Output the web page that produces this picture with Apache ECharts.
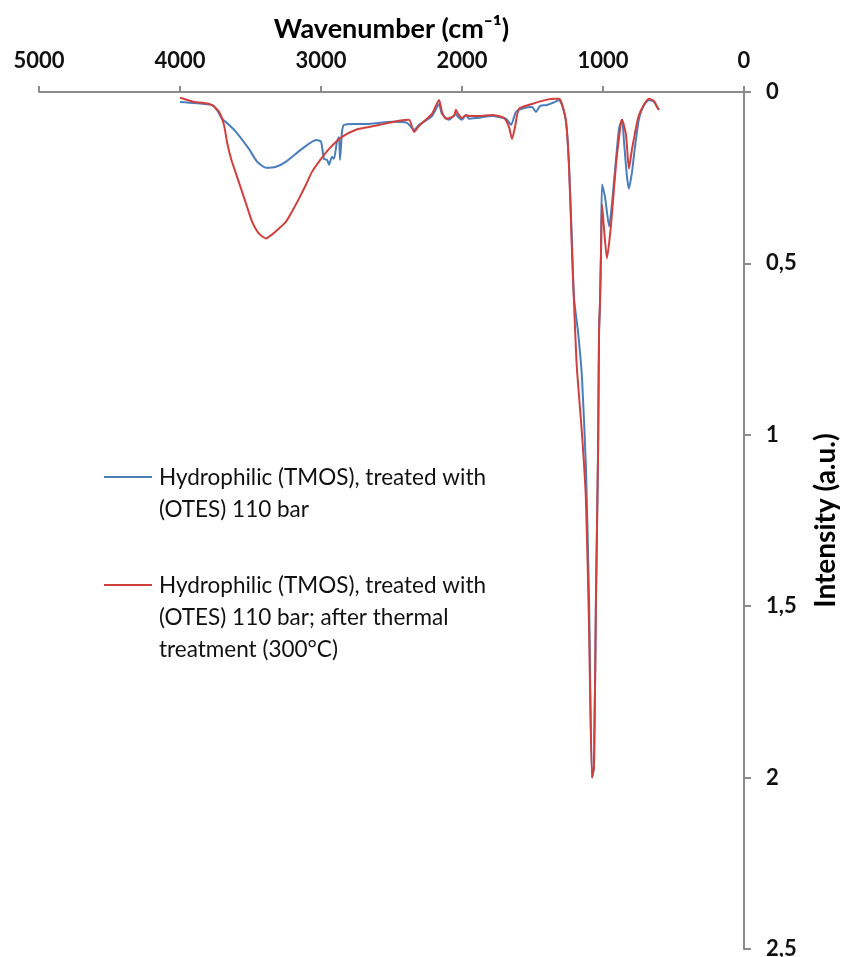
<!DOCTYPE html>
<html>
<head>
<meta charset="utf-8">
<script src="https://cdn.jsdelivr.net/npm/echarts@6/dist/echarts.min.js"></script>
<style>
html,body{margin:0;padding:0;background:#fff;}
#chart{width:843px;height:957px;}
</style>
</head>
<body>
<div id="chart"></div>
<script>
// Wavenumber (cm-1) and intensity (a.u.)
const xTicks = [5000, 4000, 3000, 2000, 1000, 0];
const yTicks = [0, 0.5, 1, 1.5, 2, 2.5];

const seriesNames = [
  'Hydrophilic (TMOS), treated with\n(OTES) 110 bar',
  'Hydrophilic (TMOS), treated with\n(OTES) 110 bar; after thermal\ntreatment (300°C)'
];

const blueWn = [4000,3901,3773,3738,3702,3652,3603,3511,3454,3390,3319,3248,3135,3035,3000,2979,2957,2943,2922,2908,2887,2872,2865,2851,2837,2766,2660,2496,2390,2340,2305,2213,2163,2142,2092,2043,2028,2000,1972,1950,1901,1787,1688,1652,1617,1560,1504,1475,1447,1397,1340,1312,1291,1262,1241,1220,1206,1177,1149,1121,1099,1078,1064,1050,1035,1028,1021,1014,1007,986,957,922,887,865,851,830,816,794,780,745,709,674,638,603];
const blueI  = [0.029,0.032,0.038,0.052,0.078,0.096,0.116,0.166,0.203,0.221,0.218,0.203,0.166,0.140,0.145,0.195,0.198,0.212,0.189,0.195,0.145,0.131,0.198,0.116,0.096,0.093,0.093,0.087,0.090,0.110,0.096,0.070,0.035,0.064,0.081,0.064,0.073,0.081,0.067,0.078,0.076,0.070,0.078,0.096,0.058,0.047,0.044,0.058,0.041,0.038,0.029,0.023,0.038,0.087,0.212,0.44,0.60,0.70,0.834,1.096,1.48,2.0,1.968,1.48,1.05,0.70,0.61,0.465,0.270,0.305,0.392,0.262,0.108,0.081,0.145,0.247,0.282,0.233,0.183,0.078,0.038,0.023,0.029,0.052];

const redWn = [4000,3901,3830,3773,3723,3688,3667,3638,3603,3560,3525,3489,3440,3390,3348,3298,3248,3206,3156,3106,3064,3014,2943,2851,2752,2660,2553,2447,2376,2340,2305,2213,2163,2142,2113,2057,2043,2028,2000,1972,1950,1879,1787,1702,1667,1645,1624,1596,1504,1404,1340,1312,1291,1262,1241,1220,1206,1186,1149,1121,1099,1078,1064,1050,1035,1028,1021,1014,1007,993,972,943,908,872,865,837,816,794,745,674,638,617,603];
const redI  = [0.017,0.029,0.032,0.038,0.058,0.096,0.145,0.195,0.238,0.291,0.334,0.378,0.413,0.427,0.416,0.398,0.378,0.349,0.311,0.270,0.233,0.203,0.166,0.131,0.110,0.102,0.093,0.084,0.081,0.116,0.099,0.064,0.023,0.058,0.078,0.070,0.052,0.064,0.076,0.067,0.070,0.070,0.067,0.076,0.102,0.137,0.102,0.049,0.035,0.023,0.020,0.020,0.035,0.087,0.218,0.465,0.61,0.80,0.997,1.19,1.56,2.0,1.968,1.48,1.05,0.70,0.61,0.465,0.328,0.398,0.485,0.387,0.212,0.087,0.081,0.125,0.224,0.166,0.067,0.020,0.026,0.044,0.052];

const colors = ['#4a7ebb', '#d0403e'];
const FONT = 'Lato, "Liberation Sans", sans-serif';

function pairs(xs, ys){ return xs.map((x,i)=>[x, ys[i]]); }

const chart = echarts.init(document.getElementById('chart'));
chart.setOption({
  animation: false,
  backgroundColor: '#ffffff',
  grid: { left: 39, right: 99, top: 92, bottom: 8, containLabel: false, outerBoundsMode: 'none' },
  xAxis: {
    type: 'value', position: 'top', inverse: true,
    min: 0, max: 5000, interval: 1000,
    name: 'Wavenumber (cm\u207B\u00B9)', nameLocation: 'middle', nameGap: 49,
    nameTextStyle: { fontFamily: FONT, fontSize: 27, fontWeight: 'bold', color: '#000' },
    axisLine: { lineStyle: { color: '#8c8c8c', width: 2 } },
    axisTick: { show: true, inside: false, length: 6, lineStyle: { color: '#8c8c8c', width: 2 } },
    axisLabel: { fontFamily: FONT, fontSize: 22, fontWeight: 'bold', color: '#111', margin: 20,
      formatter: v => xTicks.includes(v) ? String(v) : '' },
    splitLine: { show: false }
  },
  yAxis: {
    type: 'value', position: 'right', inverse: true,
    min: 0, max: 2.5, interval: 0.5,
    name: 'Intensity (a.u.)', nameLocation: 'middle', nameGap: 68, nameRotate: 90,
    nameTextStyle: { fontFamily: FONT, fontSize: 28, fontWeight: 'bold', color: '#000' },
    axisLine: { show: true, lineStyle: { color: '#8c8c8c', width: 2 } },
    axisTick: { show: true, inside: false, length: 7, lineStyle: { color: '#8c8c8c', width: 2 } },
    axisLabel: { fontFamily: FONT, fontSize: 22, fontWeight: 'bold', color: '#111', margin: 22,
      formatter: v => yTicks.includes(v) ? String(v).replace('.', ',') : '' },
    splitLine: { show: false }
  },
  series: [
    { name: seriesNames[0], type: 'line', data: pairs(blueWn, blueI), showSymbol: false, smooth: 0.2,
      lineStyle: { color: colors[0], width: 2 }, itemStyle: { color: colors[0] }, z: 2 },
    { name: seriesNames[1], type: 'line', data: pairs(redWn, redI), showSymbol: false, smooth: 0.2,
      lineStyle: { color: colors[1], width: 2 }, itemStyle: { color: colors[1] }, z: 3 }
  ],
  graphic: [
    { type: 'line', shape: { x1: 104, y1: 477, x2: 152, y2: 477 }, style: { stroke: colors[0], lineWidth: 2 } },
    { type: 'text', left: 159, top: 462, style: { text: seriesNames[0], font: '22.5px ' + FONT, fill: '#111', lineHeight: 32 } },
    { type: 'line', shape: { x1: 104, y1: 585, x2: 152, y2: 585 }, style: { stroke: colors[1], lineWidth: 2 } },
    { type: 'text', left: 159, top: 570, style: { text: seriesNames[1], font: '22.5px ' + FONT, fill: '#111', lineHeight: 32 } }
  ]
});
</script>
</body>
</html>
